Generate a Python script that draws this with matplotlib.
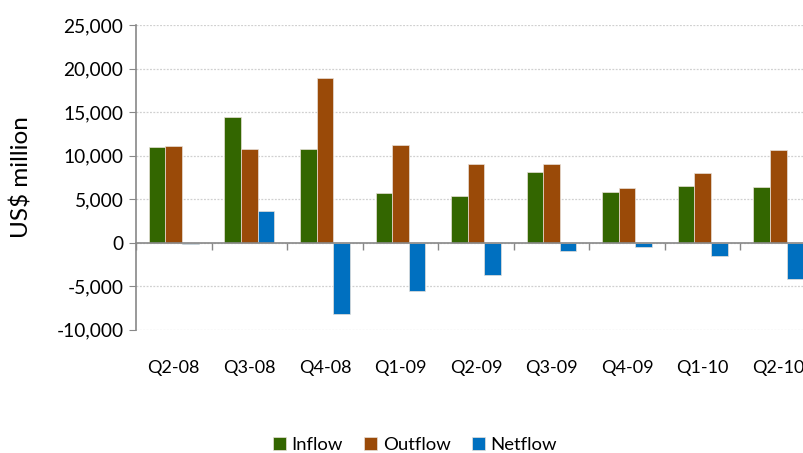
import numpy as np
import matplotlib.pyplot as plt

# quarterly flows, US$ million
quarters = ['Q2-08', 'Q3-08', 'Q4-08', 'Q1-09', 'Q2-09', 'Q3-09', 'Q4-09', 'Q1-10', 'Q2-10']
inflow = [11000, 14500, 10750, 5700, 5350, 8100, 5850, 6500, 6450]
outflow = [11150, 10800, 18900, 11200, 9100, 9000, 6350, 8000, 10650]
netflow = [-150, 3700, -8150, -5500, -3750, -900, -500, -1500, -4200]

series = [('Inflow', inflow, '#336600'),
          ('Outflow', outflow, '#9A4A08'),
          ('Netflow', netflow, '#0070C0')]

plt.rcParams['font.family'] = ['Lato', 'DejaVu Sans']

fig = plt.figure(figsize=(8.04, 4.53), dpi=100)
ax = fig.add_axes([136/804, 1 - 329.7/453, 680/804, (329.7 - 25.3)/453])

x = np.arange(len(quarters))
bw = 0.22
for k, (name, vals, col) in enumerate(series):
    ax.bar(x + (k - 1) * bw, vals, width=bw, color=col, edgecolor='#E8E0D8',
           linewidth=0.5, label=name, zorder=3)

ymin, ymax = -10000, 25000
ax.set_ylim(ymin, ymax)
ax.set_xlim(-0.5, len(quarters) - 0.5)
ax.set_yticks(np.arange(ymin, ymax + 1, 5000))
ax.yaxis.set_major_formatter(plt.FuncFormatter(lambda v, p: f'{int(v):,}'))
ax.grid(axis='y', color='#D0D0D0', linestyle=(0, (1.5, 1.2)), linewidth=0.9, zorder=0)

ax.set_xticks(x)
ax.set_xticklabels(quarters)
ax.tick_params(axis='x', length=0, pad=22, labelsize=13)
ax.tick_params(axis='y', length=5, color='#888888', labelsize=13.8, pad=4)

for s in ['top', 'right', 'bottom']:
    ax.spines[s].set_visible(False)
ax.spines['left'].set_color('#888888')
ax.spines['left'].set_linewidth(1.2)

# zero line with category boundary ticks
zero_pos = (0 - ymin) / (ymax - ymin)
sec = ax.secondary_xaxis(zero_pos)
sec.set_xticks(np.arange(len(quarters) + 1) - 0.5)
sec.set_xticklabels([])
sec.tick_params(length=5, width=1.0, color='#888888', direction='out')
sec.spines['bottom'].set_color('#888888')
sec.spines['bottom'].set_linewidth(1.2)
sec.set_zorder(4)

ax.set_ylabel('US$ million', fontsize=17.5)
ax.yaxis.set_label_coords(-0.152, 0.5)

fig.legend(loc='center', bbox_to_anchor=(415/804, 1 - 445/453), ncol=3,
           frameon=False, fontsize=13.3, handlelength=0.7, handleheight=0.7,
           handletextpad=0.3, columnspacing=1.15)

fig.savefig('out.png', dpi=100)
